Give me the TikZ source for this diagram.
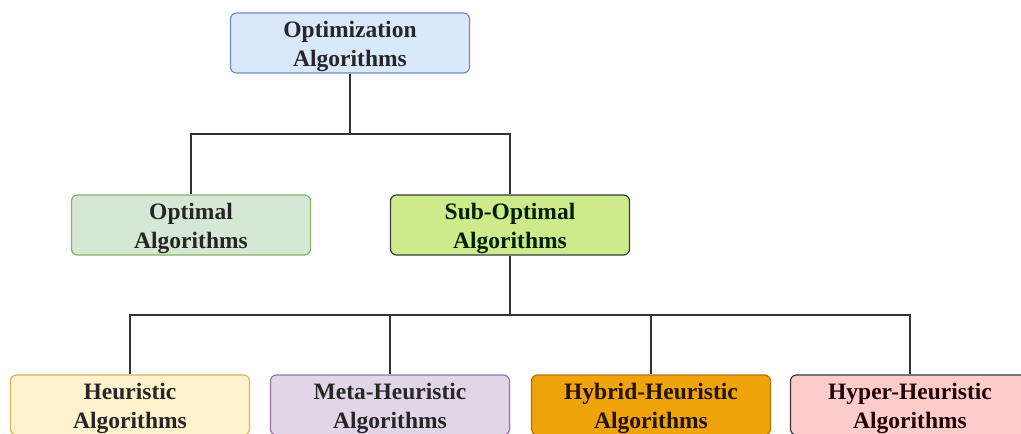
\documentclass[tikz,border=0pt]{standalone}
\usepackage{fontspec}
\setmainfont{Liberation Serif}
\begin{document}
\begin{tikzpicture}[x=1pt,y=-1pt,
  box/.style={draw, rounded corners=6pt, line width=1.2pt, minimum width=239pt, minimum height=60pt,
    inner sep=0pt},
  txt/.style={align=center, inner sep=0pt, font=\fontsize{23.5}{29}\selectfont\bfseries,
    text=black!85, yshift=-3.5pt},
  link/.style={draw=black!80, line width=1.8pt}]
\useasboundingbox (0,0) rectangle (1021,434);
\definecolor{blueF}{HTML}{DAE8FC}\definecolor{blueD}{HTML}{6C8EBF}
\definecolor{greenF}{HTML}{D5E8D4}\definecolor{greenD}{HTML}{82B366}
\definecolor{limeF}{HTML}{CDEB8B}\definecolor{limeD}{HTML}{36393D}
\definecolor{yelF}{HTML}{FFF2CC}\definecolor{yelD}{HTML}{D6B656}
\definecolor{purF}{HTML}{E1D5E7}\definecolor{purD}{HTML}{9673A6}
\definecolor{orF}{HTML}{F0A30A}\definecolor{orD}{HTML}{BD7000}
\definecolor{pinkF}{HTML}{FFCCCC}\definecolor{pinkD}{HTML}{36393D}

% top level
\node[box, fill=blueF, draw=blueD] (opt) at (350,43) {};
\node[txt] (optT) at (opt) {Optimization\\Algorithms};
% second level
\node[box, fill=greenF, draw=greenD] (optimal) at (191,225) {};
\node[txt] (optimalT) at (optimal) {Optimal\\Algorithms};
\node[box, fill=limeF, draw=limeD] (sub) at (510,225) {};
\node[txt, text=black!80!green!60!black] (subT) at (sub) {Sub-Optimal\\Algorithms};
% third level
\node[box, fill=yelF, draw=yelD] (heu) at (130,405) {};
\node[txt] (heuT) at (heu) {Heuristic\\Algorithms};
\node[box, fill=purF, draw=purD] (meta) at (390,405) {};
\node[txt] (metaT) at (meta) {Meta-Heuristic\\Algorithms};
\node[box, fill=orF, draw=orD] (hyb) at (651,405) {};
\node[txt, text=black!70!orD!60!black] (hybT) at (hyb) {Hybrid-Heuristic\\Algorithms};
\node[box, fill=pinkF, draw=pinkD] (hyp) at (910,405) {};
\node[txt, text=black!75!red!50!black] (hypT) at (hyp) {Hyper-Heuristic\\Algorithms};

% connectors
\coordinate (j1) at (350,134);
\coordinate (j2) at (510,315);
\draw[link] (opt.south) -- (j1);
\draw[link] (j1) -| (optimal.north);
\draw[link] (j1) -| (sub.north);
\draw[link] (sub.south) -- (j2);
\draw[link] (j2) -| (heu.north);
\draw[link] (j2) -| (meta.north);
\draw[link] (j2) -| (hyb.north);
\draw[link] (j2) -| (hyp.north);
\end{tikzpicture}
\end{document}
